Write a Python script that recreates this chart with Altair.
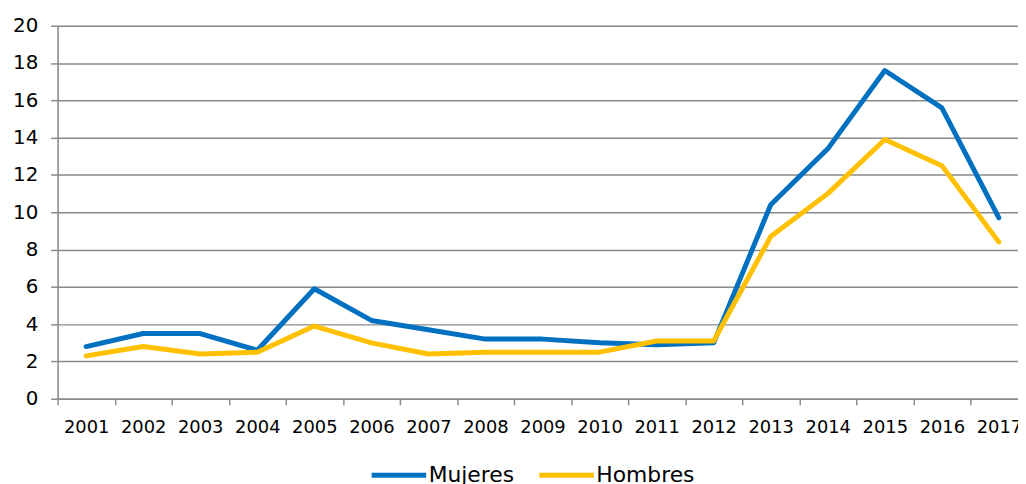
import altair as alt
import pandas as pd

years = [str(y) for y in range(2001, 2018)]
mujeres = [2.8, 3.5, 3.5, 2.6, 5.9, 4.2, 3.7, 3.2, 3.2, 3.0, 2.9, 3.0, 10.4, 13.4, 17.6, 15.6, 9.7]
hombres = [2.3, 2.8, 2.4, 2.5, 3.9, 3.0, 2.4, 2.5, 2.5, 2.5, 3.1, 3.1, 8.7, 11.0, 13.9, 12.5, 8.4]
series = ["Mujeres", "Hombres"]
colors = ["#0070C0", "#FFC000"]
y_ticks = list(range(0, 21, 2))

rows = []
for s, vals in zip(series, [mujeres, hombres]):
    for yr, v in zip(years, vals):
        rows.append({"Año": yr, "Serie": s, "Valor": v})
df = pd.DataFrame(rows)

FONT = "DejaVu Sans"
GRID = "#8a8a8a"

chart = alt.Chart(df).mark_line(strokeWidth=5, strokeCap="round", strokeJoin="round").encode(
    x=alt.X("Año:O", title=None, bandPosition=0.5,
            scale=alt.Scale(type="band", domain=years, range=[0, 977.5], paddingInner=0, paddingOuter=0),
            axis=alt.Axis(labelAngle=0, tickBand="extent", grid=False, domainColor=GRID, domainWidth=1.5,
                          tickColor=GRID, tickWidth=1.5, tickSize=6, labelPadding=14,
                          labelFont=FONT, labelFontSize=18, labelColor="#000000")),
    y=alt.Y("Valor:Q", title=None,
            scale=alt.Scale(domain=[0, 20], nice=False, zero=True),
            axis=alt.Axis(values=y_ticks, grid=True, gridColor=GRID, gridWidth=1.5,
                          domainColor=GRID, domainWidth=1.5, tickColor=GRID, tickWidth=1.5,
                          tickSize=7, labelPadding=13, labelFont=FONT, labelFontSize=20,
                          labelColor="#000000")),
    color=alt.Color("Serie:N", title=None,
                    scale=alt.Scale(domain=series, range=colors),
                    legend=alt.Legend(orient="none", legendX=314, legendY=423, direction="horizontal",
                                      symbolType="stroke", symbolSize=3025, symbolStrokeWidth=5,
                                      labelFont=FONT, labelFontSize=22, labelColor="#000000",
                                      columnPadding=14, labelOffset=0)),
    order=alt.Order("Serie:N", sort="descending"),
).properties(
    width=968, height=376,
    autosize=alt.AutoSizeParams(type="none"),
    padding={"left": 50, "top": 16, "right": 0, "bottom": 84},
).configure_view(stroke=None).configure(background="white")

chart.save("out.html", embed_options={"renderer": "svg", "actions": False})
